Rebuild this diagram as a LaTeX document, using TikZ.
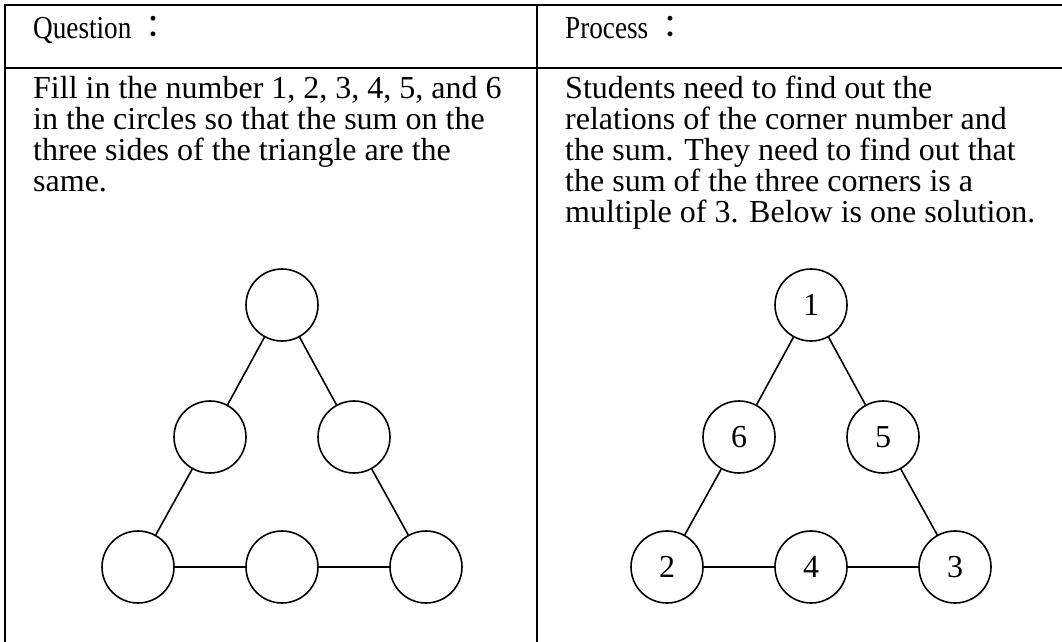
\documentclass[tikz,border=0pt]{standalone}
\usepackage{fontspec}
\setmainfont{Liberation Serif}
\newfontfamily\headfont[FakeStretch=0.85]{Liberation Serif}
\newfontfamily\cjk{Noto Sans CJK TC}
\begin{document}
\begin{tikzpicture}[x=1pt,y=-1pt,
  rule/.style={line width=2pt,line cap=rect},
  txt/.style={anchor=base west,inner sep=0pt,font=\fontsize{32}{31}\selectfont},
  head/.style={anchor=base west,inner sep=0pt,font=\fontsize{32}{31}\headfont},
  ball/.style={circle,draw,line width=1.6pt,minimum size=72pt,inner sep=0pt,font=\fontsize{32}{31}\selectfont},
  link/.style={line width=1.6pt}]
\useasboundingbox (0,0) rectangle (1062,642);
% table rules
\coordinate (tl) at (5,5);
\coordinate (tr) at (1062,5);
\coordinate (hl) at (5,68);
\coordinate (hr) at (1062,68);
\coordinate (bl) at (5,642);
\coordinate (mt) at (537,5);
\coordinate (mb) at (537,642);
\draw[rule] (tl) -- (tr);
\draw[rule] (hl) -- (hr);
\draw[rule] (tl) -- (bl);
\draw[rule] (mt) -- (mb);
% texts
\node[head] (qh) at (33,38) {Question\kern6pt{\cjk ：}};
\node[head] (ph) at (565,38) {Process\kern6pt{\cjk ：}};
\node[txt] (q1) at (33,98) {Fill in the number 1, 2, 3, 4, 5, and 6};
\node[txt] (q2) at (33,129) {in the circles so that the sum on the};
\node[txt] (q3) at (33,160) {three sides of the triangle are the};
\node[txt] (q4) at (33,191) {same.};
\node[txt] (p1) at (565,98) {Students need to find out the};
\node[txt] (p2) at (565,129) {relations of the corner number and};
\node[txt] (p3) at (565,160) {the sum. They need to find out that};
\node[txt] (p4) at (565,191) {the sum of the three corners is a};
\node[txt] (p5) at (565,222) {multiple of 3. Below is one solution.};
% left triangle
\node[ball] (a1) at (282,305) {};
\node[ball] (a2) at (210,437) {};
\node[ball] (a3) at (354,437) {};
\node[ball] (a4) at (138,567) {};
\node[ball] (a5) at (282,567) {};
\node[ball] (a6) at (426,567) {};
\draw[link] (a1) -- (a2) (a2) -- (a4) (a1) -- (a3) (a3) -- (a6) (a4) -- (a5) (a5) -- (a6);
% right triangle
\node[ball] (b1) at (811,305) {1};
\node[ball] (b2) at (739,437) {6};
\node[ball] (b3) at (883,437) {5};
\node[ball] (b4) at (667,567) {2};
\node[ball] (b5) at (811,567) {4};
\node[ball] (b6) at (955,567) {3};
\draw[link] (b1) -- (b2) (b2) -- (b4) (b1) -- (b3) (b3) -- (b6) (b4) -- (b5) (b5) -- (b6);
\end{tikzpicture}
\end{document}
